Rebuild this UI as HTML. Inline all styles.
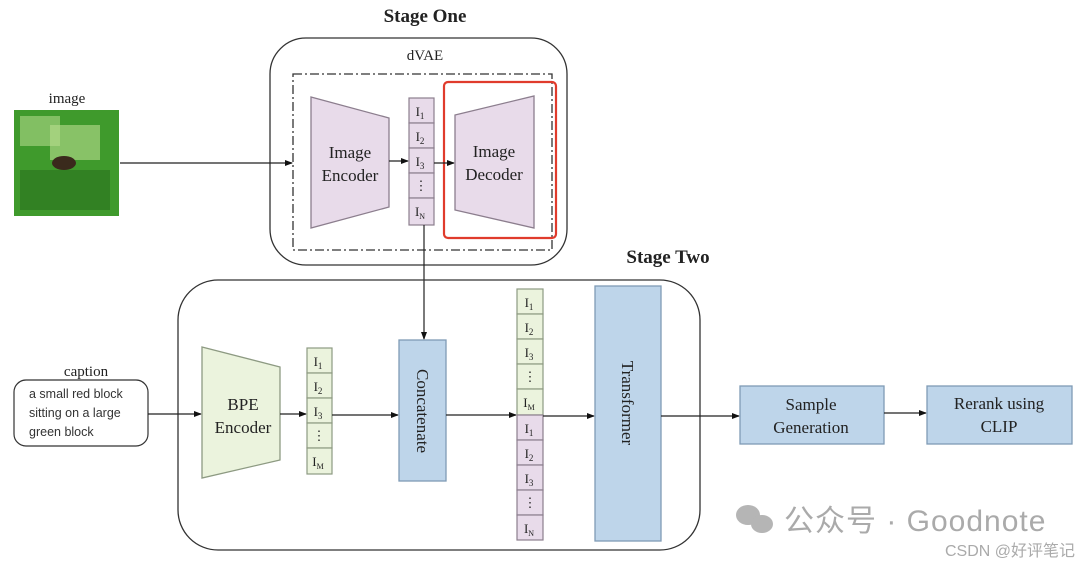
<!DOCTYPE html>
<html><head><meta charset="utf-8"><style>
html,body{margin:0;padding:0;background:#fff;width:1080px;height:564px;overflow:hidden}
svg{display:block}
.s{font-family:"Liberation Serif",serif;fill:#222}
.t{font-family:"Liberation Sans",sans-serif;fill:#333}
</style></head><body>
<svg width="1080" height="564" viewBox="0 0 1080 564" xmlns="http://www.w3.org/2000/svg">
<defs>
<marker id="a" markerWidth="8" markerHeight="8" refX="7" refY="4" orient="auto" markerUnits="userSpaceOnUse"><path d="M0,1 L8,4 L0,7z" fill="#111"/></marker>
</defs>
<text class="s" x="425" y="22" font-size="19" font-weight="bold" text-anchor="middle">Stage One</text>
<text class="s" x="668" y="263" font-size="19" font-weight="bold" text-anchor="middle">Stage Two</text>
<rect x="270" y="38" width="297" height="227" rx="36" fill="none" stroke="#333" stroke-width="1.3"/>
<text class="s" x="425" y="60" font-size="15" text-anchor="middle">dVAE</text>
<rect x="293" y="74" width="259" height="176" fill="none" stroke="#333" stroke-width="1.3" stroke-dasharray="9,3,2,3"/>
<rect x="444" y="82" width="112" height="156" rx="4" fill="none" stroke="#e03b2c" stroke-width="2.2"/>
<text class="s" x="67" y="103" font-size="15" text-anchor="middle">image</text>
<rect x="14" y="110" width="105" height="106" fill="#3f9a2c"/>
<rect x="20" y="116" width="40" height="30" fill="#9fce7a" opacity=".7"/>
<rect x="50" y="125" width="50" height="35" fill="#b9dd90" opacity=".6"/>
<rect x="20" y="170" width="90" height="40" fill="#2f7a22" opacity=".8"/>
<ellipse cx="64" cy="163" rx="12" ry="7" fill="#3a2a1c"/>
<line x1="120" y1="163" x2="292" y2="163" stroke="#222" stroke-width="1.2" marker-end="url(#a)"/>
<polygon points="311,97 389,118 389,207 311,228" fill="#e8dbea" stroke="#8c7e8e" stroke-width="1.3"/>
<text class="s" x="350" y="158" font-size="17" text-anchor="middle">Image</text>
<text class="s" x="350" y="181" font-size="17" text-anchor="middle">Encoder</text>
<line x1="389" y1="161" x2="408" y2="161" stroke="#222" stroke-width="1.2" marker-end="url(#a)"/>
<g stroke="#8c7e8e" stroke-width="1.2" fill="#e8dbea">
<rect x="409" y="98" width="25" height="25"/><rect x="409" y="123" width="25" height="25"/><rect x="409" y="148" width="25" height="25"/><rect x="409" y="173" width="25" height="25"/><rect x="409" y="198" width="25" height="27"/>
</g>
<g class="s" font-size="13" text-anchor="middle">
<text x="420" y="116">I<tspan font-size="9" dy="3">1</tspan></text>
<text x="420" y="141">I<tspan font-size="9" dy="3">2</tspan></text>
<text x="420" y="166">I<tspan font-size="9" dy="3">3</tspan></text>
<text x="421" y="190">⋮</text>
<text x="420" y="216">I<tspan font-size="8" dy="3">N</tspan></text>
</g>
<line x1="434" y1="163" x2="454" y2="163" stroke="#222" stroke-width="1.2" marker-end="url(#a)"/>
<polygon points="455,115 534,96 534,228 455,210" fill="#e8dbea" stroke="#8c7e8e" stroke-width="1.3"/>
<text class="s" x="494" y="157" font-size="17" text-anchor="middle">Image</text>
<text class="s" x="494" y="180" font-size="17" text-anchor="middle">Decoder</text>
<line x1="424" y1="225" x2="424" y2="339" stroke="#222" stroke-width="1.2" marker-end="url(#a)"/>
<rect x="178" y="280" width="522" height="270" rx="40" fill="none" stroke="#333" stroke-width="1.3"/>
<text class="s" x="86" y="376" font-size="15" text-anchor="middle">caption</text>
<rect x="14" y="380" width="134" height="66" rx="12" fill="#fff" stroke="#333" stroke-width="1.2"/>
<g class="t" font-size="12.5">
<text x="29" y="398">a small red block</text>
<text x="29" y="417">sitting on a large</text>
<text x="29" y="436">green block</text>
</g>
<line x1="148" y1="414" x2="201" y2="414" stroke="#222" stroke-width="1.2" marker-end="url(#a)"/>
<polygon points="202,347 280,367 280,460 202,478" fill="#ebf3dd" stroke="#8d9a82" stroke-width="1.3"/>
<text class="s" x="243" y="410" font-size="17" text-anchor="middle">BPE</text>
<text class="s" x="243" y="433" font-size="17" text-anchor="middle">Encoder</text>
<line x1="280" y1="414" x2="306" y2="414" stroke="#222" stroke-width="1.2" marker-end="url(#a)"/>
<g stroke="#8d9a82" stroke-width="1.2" fill="#ebf3dd">
<rect x="307" y="348" width="25" height="25"/><rect x="307" y="373" width="25" height="25"/><rect x="307" y="398" width="25" height="25"/><rect x="307" y="423" width="25" height="25"/><rect x="307" y="448" width="25" height="26"/>
</g>
<g class="s" font-size="13" text-anchor="middle">
<text x="318" y="366">I<tspan font-size="9" dy="3">1</tspan></text>
<text x="318" y="391">I<tspan font-size="9" dy="3">2</tspan></text>
<text x="318" y="416">I<tspan font-size="9" dy="3">3</tspan></text>
<text x="319" y="440">⋮</text>
<text x="318" y="466">I<tspan font-size="8" dy="3">M</tspan></text>
</g>
<line x1="332" y1="415" x2="398" y2="415" stroke="#222" stroke-width="1.2" marker-end="url(#a)"/>
<rect x="399" y="340" width="47" height="141" fill="#bed5ea" stroke="#7f9bb5" stroke-width="1.3"/>
<text class="s" font-size="17" text-anchor="middle" transform="translate(417,411) rotate(90)">Concatenate</text>
<line x1="446" y1="415" x2="516" y2="415" stroke="#222" stroke-width="1.2" marker-end="url(#a)"/>
<g stroke="#8d9a82" stroke-width="1.2" fill="#ebf3dd">
<rect x="517" y="289" width="26" height="25"/><rect x="517" y="314" width="26" height="25"/><rect x="517" y="339" width="26" height="25"/><rect x="517" y="364" width="26" height="25"/><rect x="517" y="389" width="26" height="26"/>
</g>
<g stroke="#8c7e8e" stroke-width="1.2" fill="#e8dbea">
<rect x="517" y="415" width="26" height="25"/><rect x="517" y="440" width="26" height="25"/><rect x="517" y="465" width="26" height="25"/><rect x="517" y="490" width="26" height="25"/><rect x="517" y="515" width="26" height="25"/>
</g>
<g class="s" font-size="13" text-anchor="middle">
<text x="529" y="307">I<tspan font-size="9" dy="3">1</tspan></text>
<text x="529" y="332">I<tspan font-size="9" dy="3">2</tspan></text>
<text x="529" y="357">I<tspan font-size="9" dy="3">3</tspan></text>
<text x="530" y="381">⋮</text>
<text x="529" y="407">I<tspan font-size="8" dy="3">M</tspan></text>
<text x="529" y="433">I<tspan font-size="9" dy="3">1</tspan></text>
<text x="529" y="458">I<tspan font-size="9" dy="3">2</tspan></text>
<text x="529" y="483">I<tspan font-size="9" dy="3">3</tspan></text>
<text x="530" y="507">⋮</text>
<text x="529" y="533">I<tspan font-size="8" dy="3">N</tspan></text>
</g>
<line x1="543" y1="416" x2="594" y2="416" stroke="#222" stroke-width="1.2" marker-end="url(#a)"/>
<rect x="595" y="286" width="66" height="255" fill="#bed5ea" stroke="#7f9bb5" stroke-width="1.3"/>
<text class="s" font-size="17" text-anchor="middle" transform="translate(622,403) rotate(90)">Transformer</text>
<line x1="661" y1="416" x2="739" y2="416" stroke="#222" stroke-width="1.2" marker-end="url(#a)"/>
<rect x="740" y="386" width="144" height="58" fill="#bed5ea" stroke="#7f9bb5" stroke-width="1.3"/>
<text class="s" x="811" y="410" font-size="17" text-anchor="middle">Sample</text>
<text class="s" x="811" y="433" font-size="17" text-anchor="middle">Generation</text>
<line x1="884" y1="413" x2="926" y2="413" stroke="#222" stroke-width="1.2" marker-end="url(#a)"/>
<rect x="927" y="386" width="145" height="58" fill="#bed5ea" stroke="#7f9bb5" stroke-width="1.3"/>
<text class="s" x="999" y="409" font-size="17" text-anchor="middle">Rerank using</text>
<text class="s" x="999" y="432" font-size="17" text-anchor="middle">CLIP</text>
<g fill="#b5b5b5">
<ellipse cx="748" cy="515" rx="12" ry="10"/>
<ellipse cx="762" cy="524" rx="11" ry="9"/>
</g>
<text x="784" y="531" font-size="30" fill="#aaa" letter-spacing="1" font-family="'Liberation Sans','Noto Sans CJK SC',sans-serif">公众号 · Goodnote</text>
<text x="1075" y="556" font-size="16" fill="#aaa" text-anchor="end" font-family="'Liberation Sans','Noto Sans CJK SC',sans-serif">CSDN @好评笔记</text>
</svg>
</body></html>
